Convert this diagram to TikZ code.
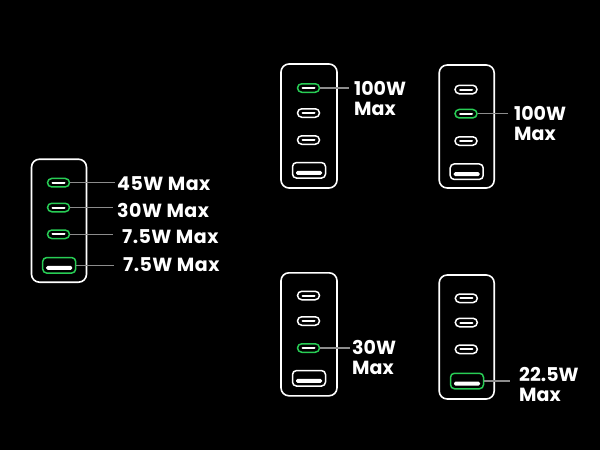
\documentclass[tikz,border=0pt]{standalone}
\usepackage{fontspec}
\setmainfont{Poppins}
\usetikzlibrary{shapes.misc}
\definecolor{pgreen}{RGB}{40,205,85}
\definecolor{lgray}{RGB}{140,140,140}
\tikzset{
  body/.style={draw=white, line width=1.6pt, rounded corners=8pt, minimum width=55pt, minimum height=123pt, inner sep=0pt},
  cport/.style={draw=white, line width=1.5pt, rounded rectangle, minimum width=22pt, minimum height=8.5pt, inner sep=0pt,
    path picture={\draw[white, line width=2pt, line cap=round] ([xshift=-6pt]path picture bounding box.center) -- ([xshift=6pt]path picture bounding box.center);}},
  gport/.style={cport, draw=pgreen},
  aport/.style={draw=white, line width=1.5pt, rounded corners=4pt, minimum width=33pt, minimum height=15.5pt, inner sep=0pt,
    path picture={\fill[white, rounded corners=1.5pt] ([xshift=-13pt,yshift=-0.5pt]path picture bounding box.center) rectangle ([xshift=13pt,yshift=-4.5pt]path picture bounding box.center);}},
  gaport/.style={aport, draw=pgreen},
  lead/.style={draw=lgray, line width=1.3pt},
  lab/.style={text=white, font=\bfseries\fontsize{19}{19}\selectfont\addfontfeatures{LetterSpace=2.5}, inner sep=0pt, anchor=west},
  lab2/.style={text=white, font=\bfseries\fontsize{19}{20}\selectfont, inner sep=0pt, anchor=west, align=left},
}
\begin{document}
\begin{tikzpicture}[x=1pt,y=-1pt]
\fill[black] (0,0) rectangle (600,450);
\useasboundingbox (0,0) rectangle (600,450);
% charger 1
\node[body] (b1) at (59,220.7) {};
\node[gport] (p11) at (58.5,182.7) {};
\node[gport] (p12) at (58.5,207.5) {};
\node[gport] (p13) at (58.5,234.3) {};
\node[gaport] (p14) at (59.2,265.3) {};
\node[lab] (l11) at (117,183.5) {45W Max};
\node[lab] (l12) at (117,210) {30W Max};
\node[lab] (l13) at (122,237) {7.5W Max};
\node[lab] (l14) at (123,265) {7.5W Max};
\coordinate (e11) at (115,182.7);
\coordinate (e12) at (113,207.5);
\coordinate (e13) at (113,234.3);
\coordinate (e14) at (114,265.3);
\draw[lead] (p11.east) -- (e11);
\draw[lead] (p12.east) -- (e12);
\draw[lead] (p13.east) -- (e13);
\draw[lead] (p14.east) -- (e14);
% charger 2
\node[body, minimum width=56pt, minimum height=124pt] (b2) at (309,126) {};
\node[gport] (p21) at (308.5,88) {};
\node[cport] (p22) at (308.5,113) {};
\node[cport] (p23) at (308.5,140) {};
\node[aport] (p24) at (309,170.3) {};
\coordinate (e2) at (349,88);
\draw[lead] (p21.east) -- (e2);
\node[lab2] (l2) at (354,98) {100W\\Max};
% charger 3
\node[body] (b3) at (466.7,126.5) {};
\node[cport] (p31) at (466,89.5) {};
\node[gport] (p32) at (466,113.7) {};
\node[cport] (p33) at (466,141) {};
\node[aport] (p34) at (466.7,171.7) {};
\coordinate (e3) at (507.5,113.7);
\draw[lead] (p32.east) -- (e3);
\node[lab2] (l3) at (514,123.5) {100W\\Max};
% charger 4
\node[body, minimum width=56pt] (b4) at (309,334.3) {};
\node[cport] (p41) at (308.5,295.5) {};
\node[cport] (p42) at (308.5,321) {};
\node[gport] (p43) at (308.5,348) {};
\node[aport] (p44) at (309,378.3) {};
\coordinate (e4) at (350,348);
\draw[lead] (p43.east) -- (e4);
\node[lab2] (l4) at (352,357) {30W\\Max};
% charger 5
\node[body, minimum height=124pt] (b5) at (466.7,337) {};
\node[cport] (p51) at (466.3,298.3) {};
\node[cport] (p52) at (466.3,322.5) {};
\node[cport] (p53) at (466.3,349.3) {};
\node[gaport] (p54) at (467,381) {};
\coordinate (e5) at (510,381);
\draw[lead] (p54.east) -- (e5);
\node[lab2] (l5) at (519,384) {22.5W\\Max};
\end{tikzpicture}
\end{document}
